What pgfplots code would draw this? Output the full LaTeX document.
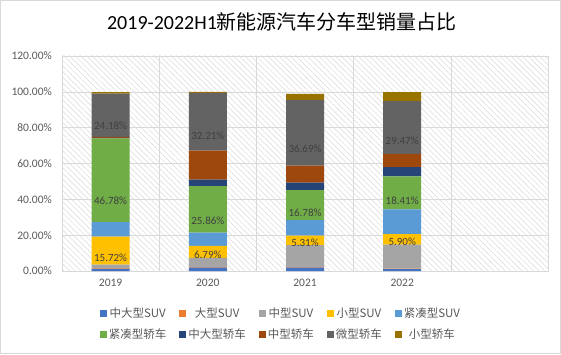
\documentclass[border=0pt]{standalone}
\usepackage{pgfplots}
\pgfplotsset{compat=1.18}
\usetikzlibrary{patterns.meta}
\usepackage{fontspec}
\setmainfont{Carlito}
\newfontfamily\cjk{Noto Sans CJK SC}
\definecolor{cA}{HTML}{4472C4}
\definecolor{cB}{HTML}{ED7D31}
\definecolor{cC}{HTML}{A5A5A5}
\definecolor{cD}{HTML}{FFC000}
\definecolor{cE}{HTML}{5B9BD5}
\definecolor{cF}{HTML}{70AD47}
\definecolor{cG}{HTML}{264478}
\definecolor{cH}{HTML}{9E480E}
\definecolor{cI}{HTML}{636363}
\definecolor{cJ}{HTML}{997300}
\definecolor{txt}{HTML}{595959}
\definecolor{lbl}{HTML}{404040}
\definecolor{grd}{HTML}{D9D9D9}
\begin{document}
\begin{tikzpicture}[x=1bp,y=1bp]
\useasboundingbox (0,0) rectangle (561,354);
\draw[grd, line width=0.6bp] (0.3,0.3) rectangle (560.7,353.7);
\node[font=\fontsize{20bp}{24bp}\selectfont, text=black, inner sep=0pt] at (282,332) {2019-2022H1{\cjk 新能源汽车分车型销量占比}};
\begin{axis}[
  at={(62bp,83bp)}, anchor=south west,
  scale only axis, width=486bp, height=215bp,
  ybar stacked, bar width=38bp,
  xmin=-0.5, xmax=4.5, ymin=0, ymax=120,
  xtick={0,1,2,3}, xticklabels={2019,2020,2021,2022},
  minor xtick={-0.5,0.5,1.5,2.5,3.5,4.5},
  ytick={0,20,40,60,80,100,120},
  yticklabels={0.00\%,20.00\%,40.00\%,60.00\%,80.00\%,100.00\%,120.00\%},
  major tick length=0pt, minor tick length=0pt,
  ymajorgrids, xminorgrids,
  grid style={grd, line width=0.6bp},
  minor grid style={grd, line width=0.6bp},
  axis line style={grd, line width=0.6bp},
  axis background/.style={pattern={Lines[angle=-45,distance=4bp,line width=0.5bp]}, pattern color=grd},
  tick label style={text=txt, font=\fontsize{11.5bp}{13bp}\selectfont},
  yticklabel style={inner sep=0pt, xshift=-10bp},
  xticklabel style={inner sep=0pt, yshift=-8bp},
  /pgf/number format/.cd, fixed, fixed zerofill, precision=2, assume math mode=true,
  /pgfplots/.cd,
  legend columns=5,
  legend style={at={(axis description cs:0.4506,-0.2465)}, anchor=center, draw=none, fill=none,
    font=\fontsize{11.5bp}{13bp}\selectfont\cjk, text=txt,
    /tikz/every even column/.append style={column sep=11bp},
    row sep=5bp},
  legend image code/.code={\fill[#1] (0bp,-3.5bp) rectangle (7bp,3.5bp);},
  lab/.style={
    visualization depends on={\thisrow{y} \as \rawy},
    nodes near coords={\pgfmathprintnumber{\rawy}\%},
    every node near coord/.append style={text=lbl, font=\fontsize{11bp}{13bp}\selectfont, anchor=center,
      shift={(axis direction cs:0,-\rawy/4)}},
  },
]
\addplot[fill=cA, draw=none] coordinates {(0,1.2) (1,1.9) (2,1.9) (3,1.1)};
\addlegendentry{中大型SUV}
\addplot[fill=cB, draw=none] coordinates {(0,0.3) (1,0.2) (2,0.2) (3,0.2)};
\addlegendentry{大型SUV}
\addplot[fill=cC, draw=none] coordinates {(0,2.0) (1,5.2) (2,12.3) (3,13.4)};
\addlegendentry{中型SUV}
\addplot[fill=cD, draw=none, lab] table[row sep=\\] {x y\\ 0 15.72\\ 1 6.79\\ 2 5.31\\ 3 5.90\\};
\addlegendentry{小型SUV}
\addplot[fill=cE, draw=none] coordinates {(0,8.0) (1,7.4) (2,8.7) (3,13.8)};
\addlegendentry{紧凑型SUV}
\addplot[fill=cF, draw=none, lab] table[row sep=\\] {x y\\ 0 46.78\\ 1 25.86\\ 2 16.78\\ 3 18.41\\};
\addlegendentry{紧凑型轿车}
\addplot[fill=cG, draw=none] coordinates {(0,0.3) (1,3.7) (2,4.1) (3,5.2)};
\addlegendentry{中大型轿车}
\addplot[fill=cH, draw=none] coordinates {(0,0.5) (1,16.2) (2,9.5) (3,7.4)};
\addlegendentry{中型轿车}
\addplot[fill=cI, draw=none, lab] table[row sep=\\] {x y\\ 0 24.18\\ 1 32.21\\ 2 36.69\\ 3 29.47\\};
\addlegendentry{微型轿车}
\addplot[fill=cJ, draw=none] coordinates {(0,0.8) (1,0.5) (2,3.4) (3,5.0)};
\addlegendentry{小型轿车}
\end{axis}
\end{tikzpicture}
\end{document}
